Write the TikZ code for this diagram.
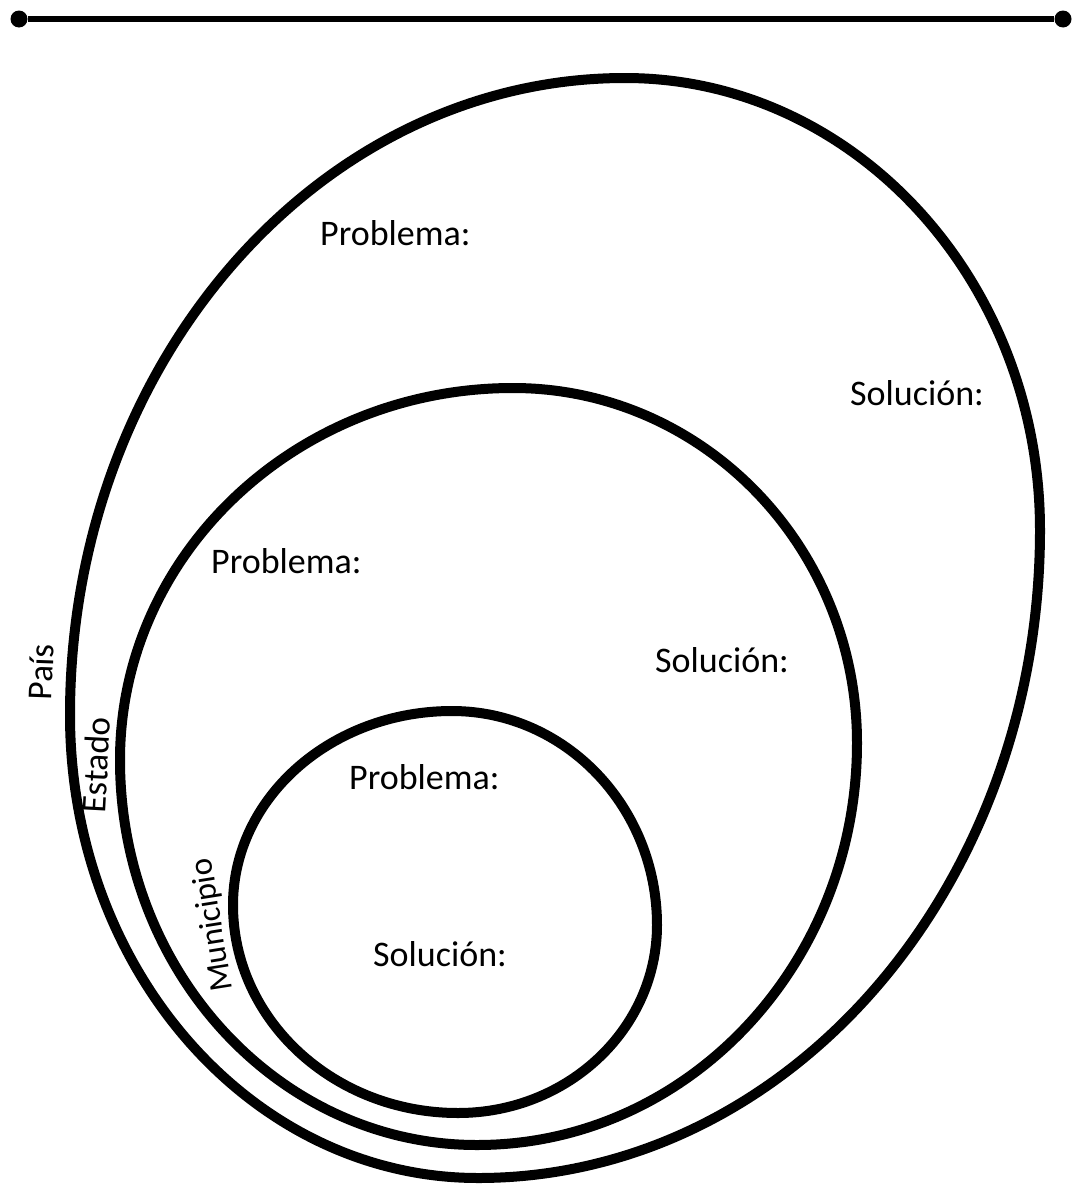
\documentclass[tikz,border=0pt]{standalone}
\usepackage{fontspec}
\setmainfont{Carlito}
\begin{document}
\begin{tikzpicture}[x=1pt,y=-1pt,
  ring/.style={line width=10pt},
  lbl/.style={inner sep=0pt,font=\fontsize{36}{40}\selectfont,anchor=west},
  side/.style={inner sep=0pt,font=\fontsize{35}{40}\selectfont},
  enddot/.style={circle,fill=black,inner sep=0pt,minimum size=17pt}]
\useasboundingbox (0,0) rectangle (1071,1186);
% top line
\node[enddot] (L) at (19,19) {};
\node[enddot] (R) at (1063,19) {};
\draw[line width=6pt] (L) -- (R);
% outer (Pais)
\draw[ring] (625,78) .. controls (854.2,78) and (1040,280.4) .. (1040,530)
  .. controls (1040,887.9) and (788.4,1178) .. (478,1178)
  .. controls (252.7,1178) and (70,970.7) .. (70,715)
  .. controls (70,363.2) and (318.5,78) .. (625,78) -- cycle;
% middle (Estado)
\draw[ring] (513,388) .. controls (703,388) and (857,546.9) .. (857,743)
  .. controls (857,965) and (686.9,1145) .. (477,1145)
  .. controls (279.8,1145) and (120,972.6) .. (120,760)
  .. controls (120,554.5) and (295.9,388) .. (513,388) -- cycle;
% inner (Municipio)
\draw[ring] (452,711) .. controls (565.2,711) and (657,806.8) .. (657,925)
  .. controls (657,1028.8) and (567.9,1113) .. (458,1113)
  .. controls (333.7,1113) and (233,1019.9) .. (233,905)
  .. controls (233,797.9) and (331,711) .. (452,711) -- cycle;
% texts
\node[lbl] (p1) at (320,233) {Problema:};
\node[lbl] (s1) at (850,393) {Solución:};
\node[lbl] (p2) at (211,561) {Problema:};
\node[lbl] (s2) at (655,660) {Solución:};
\node[lbl] (p3) at (349,777) {Problema:};
\node[lbl] (s3) at (373,954) {Solución:};
\node[side,rotate=88] (pais) at (41,672) {País};
\node[side,rotate=87] (estado) at (96,765) {Estado};
\node[side,rotate=99,font=\fontsize{33}{38}\selectfont] (muni) at (213,925) {Municipio};
\end{tikzpicture}
\end{document}
